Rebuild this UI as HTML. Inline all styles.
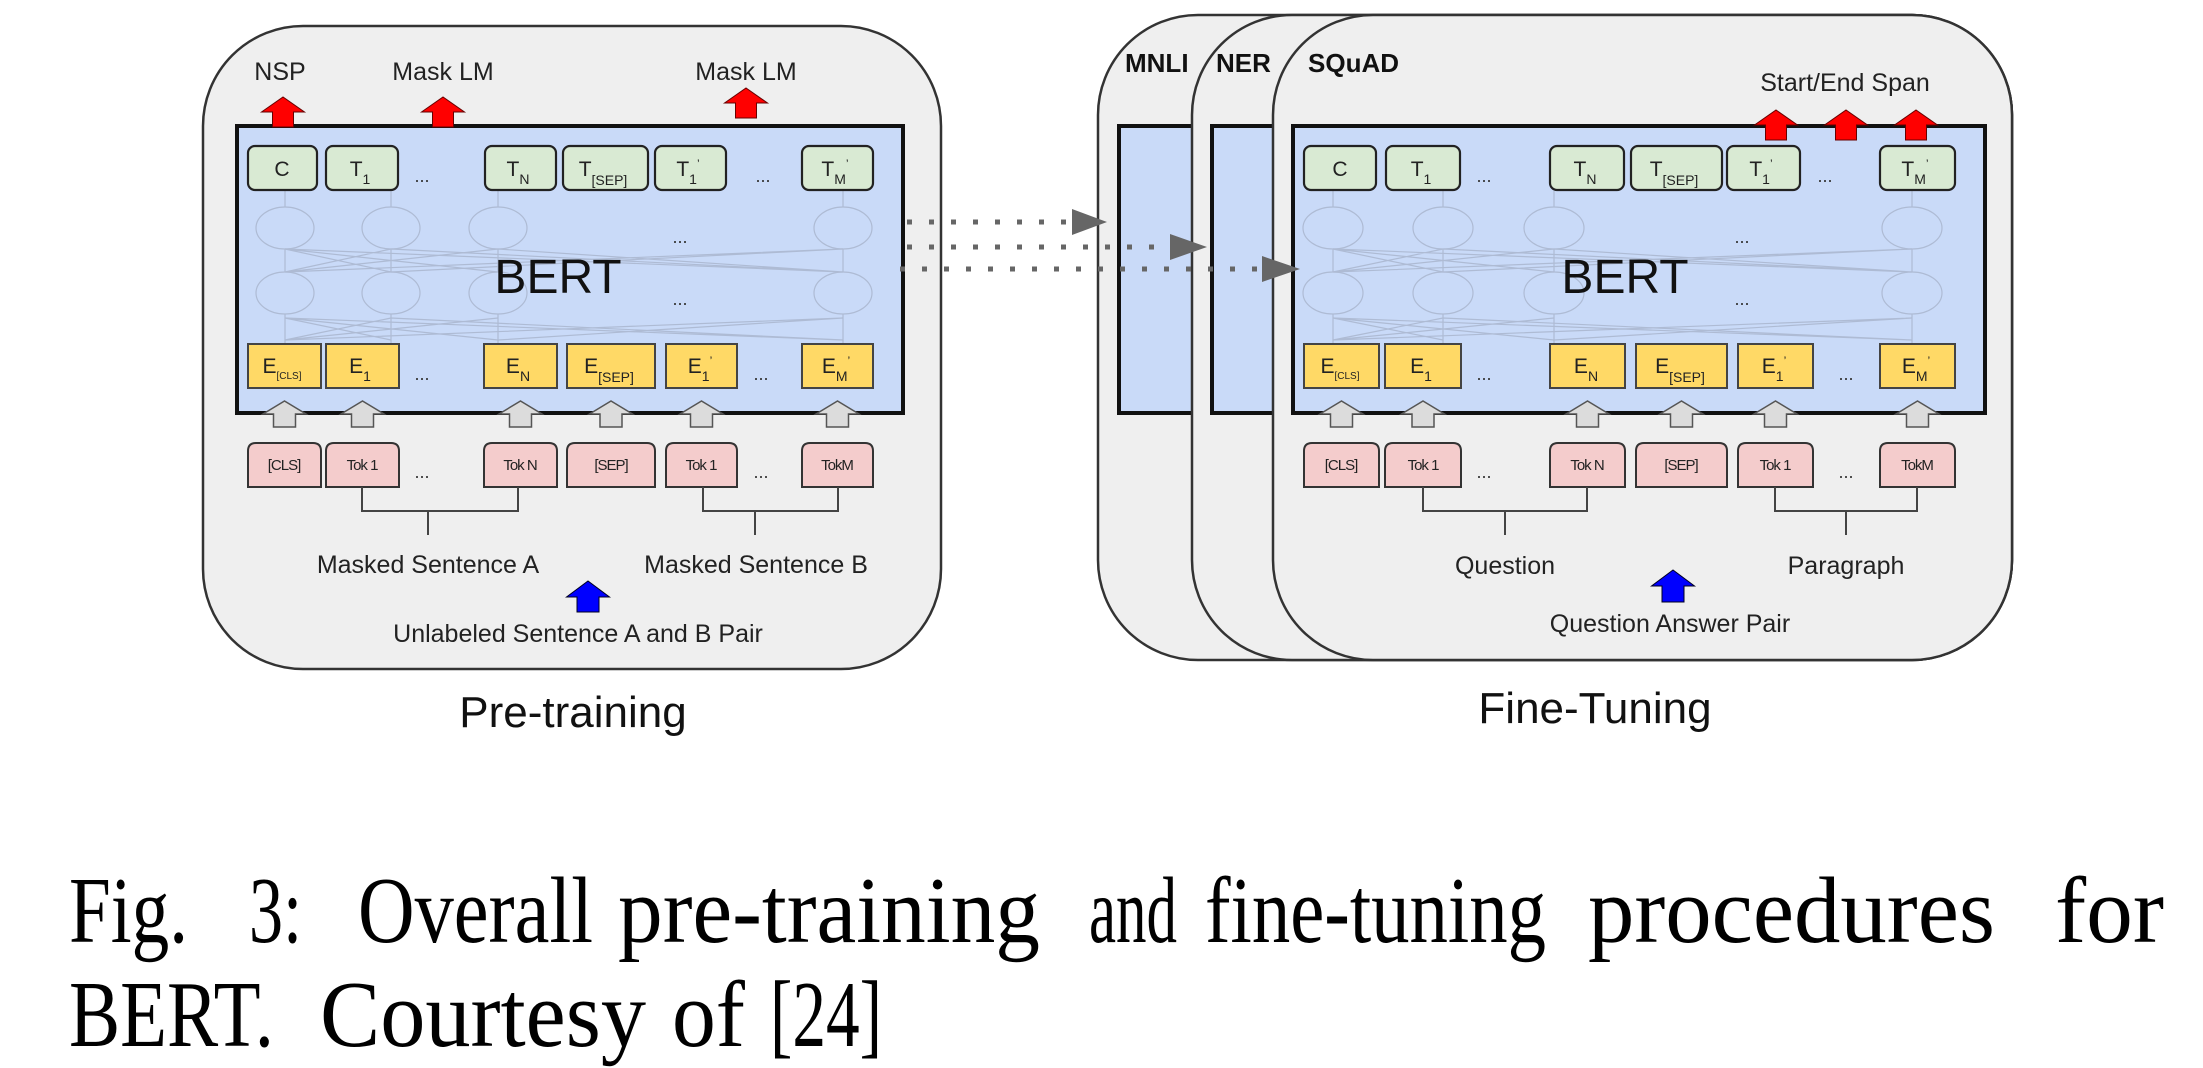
<!DOCTYPE html>
<html><head><meta charset="utf-8"><style>
html,body{margin:0;padding:0;background:#fff;}
svg{display:block;}
text{font-family:"Liberation Sans",Arial,sans-serif;fill:#222;}
.cap text{font-family:"Liberation Serif","Times New Roman",serif;fill:#000;font-size:94px;}
.g{fill:#d9ead3;stroke:#222;stroke-width:2.2;}
.y{fill:#ffd966;stroke:#444;stroke-width:2;}
.p{fill:#f4cccc;stroke:#333;stroke-width:2;}
.net{stroke:#aebbd4;stroke-width:1.2;fill:none;}
.lbl{font-size:21px;text-anchor:middle;}
.tok{font-size:15px;text-anchor:middle;letter-spacing:-1px;}
.dots{font-size:18px;text-anchor:middle;fill:#333;}
</style></head><body>
<svg width="2203" height="1068" viewBox="0 0 2203 1068" xmlns="http://www.w3.org/2000/svg">
<rect width="2203" height="1068" fill="#fff"/>

<!-- ================= PRE-TRAINING ================= -->
<rect x="203" y="26" width="738" height="643" rx="100" fill="#efefef" stroke="#333" stroke-width="2.5"/>
<rect x="237" y="126" width="666" height="287" fill="#c9daf8" stroke="#111" stroke-width="4"/>

<g class="net">
<ellipse cx="285" cy="228" rx="29" ry="21"/><ellipse cx="391" cy="228" rx="29" ry="21"/><ellipse cx="498" cy="228" rx="29" ry="21"/><ellipse cx="843" cy="228" rx="29" ry="21"/>
<ellipse cx="285" cy="293" rx="29" ry="21"/><ellipse cx="391" cy="293" rx="29" ry="21"/><ellipse cx="498" cy="293" rx="29" ry="21"/><ellipse cx="843" cy="293" rx="29" ry="21"/>
<path d="M285 191V207M391 191V207M498 191V207M843 191V207M285 249V272M391 249V272M498 249V272M843 249V272M285 314V344M391 314V344M498 314V344M843 314V344"/>
<path d="M285 249L391 272M285 249L498 272M285 249L843 272M391 249L285 272M391 249L843 272M498 249L285 272M498 249L843 272M843 249L285 272M843 249L391 272"/>
<path d="M285 318L391 340M285 318L498 340M285 318L843 340M391 318L285 340M391 318L843 340M498 318L285 340M843 318L285 340M843 318L498 340"/>
</g>
<text x="680" y="243" class="dots" fill="#aab">...</text>
<text x="680" y="305" class="dots" fill="#aab">...</text>

<text x="558" y="293" font-size="48" text-anchor="middle" style="fill:#111">BERT</text>

<rect class="g" x="248" y="146" width="69" height="44" rx="7"/>
<rect class="g" x="326" y="146" width="72" height="44" rx="7"/>
<rect class="g" x="485" y="146" width="71" height="44" rx="7"/>
<rect class="g" x="563" y="146" width="85" height="44" rx="7"/>
<rect class="g" x="655" y="146" width="71" height="44" rx="7"/>
<rect class="g" x="802" y="146" width="71" height="44" rx="7"/>
<text x="282" y="176" class="lbl">C</text>
<text x="360" y="176" class="lbl">T<tspan font-size="14" dy="8">1</tspan></text>
<text x="518" y="176" class="lbl">T<tspan font-size="14" dy="8">N</tspan></text>
<text x="603" y="176" class="lbl">T<tspan font-size="14" dy="9">[SEP]</tspan></text>
<text x="688" y="176" class="lbl">T<tspan font-size="14" dy="8">1</tspan><tspan font-size="12" dy="-16">’</tspan></text>
<text x="835" y="176" class="lbl">T<tspan font-size="14" dy="8">M</tspan><tspan font-size="12" dy="-16">’</tspan></text>
<text x="422" y="182" class="dots">...</text>
<text x="763" y="182" class="dots">...</text>

<rect class="y" x="248" y="344" width="73" height="44"/>
<rect class="y" x="326" y="344" width="73" height="44"/>
<rect class="y" x="484" y="344" width="73" height="44"/>
<rect class="y" x="567" y="344" width="88" height="44"/>
<rect class="y" x="666" y="344" width="71" height="44"/>
<rect class="y" x="802" y="344" width="71" height="44"/>
<text x="282" y="373" class="lbl">E<tspan font-size="10" dy="6">[CLS]</tspan></text>
<text x="360" y="373" class="lbl">E<tspan font-size="14" dy="8">1</tspan></text>
<text x="518" y="373" class="lbl">E<tspan font-size="14" dy="8">N</tspan></text>
<text x="609" y="373" class="lbl">E<tspan font-size="14" dy="9">[SEP]</tspan></text>
<text x="700" y="373" class="lbl">E<tspan font-size="14" dy="8">1</tspan><tspan font-size="12" dy="-16">’</tspan></text>
<text x="836" y="373" class="lbl">E<tspan font-size="14" dy="8">M</tspan><tspan font-size="12" dy="-16">’</tspan></text>
<text x="422" y="380" class="dots">...</text>
<text x="761" y="380" class="dots">...</text>

<g fill="#dcdcdc" stroke="#555" stroke-width="1.5">
<path d="M263 414L284.5 401L306 414L295.5 414L295.5 427L273.5 427L273.5 414Z"/>
<path d="M341 414L362.5 401L384 414L373.5 414L373.5 427L351.5 427L351.5 414Z"/>
<path d="M499 414L520.5 401L542 414L531.5 414L531.5 427L509.5 427L509.5 414Z"/>
<path d="M589.5 414L611 401L632.5 414L622 414L622 427L600 427L600 414Z"/>
<path d="M680 414L701.5 401L723 414L712.5 414L712.5 427L690.5 427L690.5 414Z"/>
<path d="M816 414L837.5 401L859 414L848.5 414L848.5 427L826.5 427L826.5 414Z"/>
</g>

<g class="p">
<path d="M248 487V451Q248 443 256 443H313Q321 443 321 451V487Z"/>
<path d="M326 487V451Q326 443 334 443H391Q399 443 399 451V487Z"/>
<path d="M484 487V451Q484 443 492 443H549Q557 443 557 451V487Z"/>
<path d="M567 487V451Q567 443 575 443H647Q655 443 655 451V487Z"/>
<path d="M666 487V451Q666 443 674 443H729Q737 443 737 451V487Z"/>
<path d="M802 487V451Q802 443 810 443H865Q873 443 873 451V487Z"/>
</g>
<text x="284" y="470" class="tok" font-size="12">[CLS]</text>
<text x="362" y="470" class="tok">Tok 1</text>
<text x="520" y="470" class="tok">Tok N</text>
<text x="611" y="470" class="tok">[SEP]</text>
<text x="701" y="470" class="tok">Tok 1</text>
<text x="837" y="470" class="tok">TokM</text>
<text x="422" y="478" class="dots">...</text>
<text x="761" y="478" class="dots">...</text>

<g stroke="#444" stroke-width="2" fill="none">
<path d="M362 487V511H518V487M428 511V535"/>
<path d="M703 487V511H838V487M755 511V535"/>
</g>

<g fill="#ff0000" stroke="#600" stroke-width="1">
<path d="M261.5 112L283 97L304.5 112L293.5 112L293.5 127L272.5 127L272.5 112Z"/>
<path d="M421.5 112L443 97L464.5 112L453.5 112L453.5 127L432.5 127L432.5 112Z"/>
<path d="M724.5 103L746 88L767.5 103L756.5 103L756.5 118L735.5 118L735.5 103Z"/>
</g>
<text x="280" y="80" font-size="25" text-anchor="middle">NSP</text>
<text x="443" y="80" font-size="25" text-anchor="middle">Mask LM</text>
<text x="746" y="80" font-size="25" text-anchor="middle">Mask LM</text>

<text x="428" y="573" font-size="25" text-anchor="middle">Masked Sentence A</text>
<text x="756" y="573" font-size="25" text-anchor="middle">Masked Sentence B</text>
<path d="M566.5 597L588 581L609.5 597L599 597L599 612L577 612L577 597Z" fill="#0000ff" stroke="#002" stroke-width="1"/>
<text x="578" y="642" font-size="25" text-anchor="middle">Unlabeled Sentence A and B Pair</text>
<text x="573" y="727" font-size="44" text-anchor="middle" style="fill:#111">Pre-training</text>

<!-- ================= FINE-TUNING ================= -->
<rect x="1098" y="15" width="914" height="645" rx="100" fill="#efefef" stroke="#333" stroke-width="2.5"/>
<rect x="1119" y="126" width="300" height="287" fill="#c9daf8" stroke="#111" stroke-width="4"/>
<rect x="1192" y="15" width="820" height="645" rx="100" fill="#efefef" stroke="#333" stroke-width="2.5"/>
<rect x="1212" y="126" width="300" height="287" fill="#c9daf8" stroke="#111" stroke-width="4"/>
<rect x="1273" y="15" width="739" height="645" rx="100" fill="#efefef" stroke="#333" stroke-width="2.5"/>
<text x="1125" y="72" font-size="26" font-weight="bold" style="fill:#111">MNLI</text>
<text x="1216" y="72" font-size="26" font-weight="bold" style="fill:#111">NER</text>
<text x="1308" y="72" font-size="26" font-weight="bold" style="fill:#111">SQuAD</text>

<rect x="1293" y="126" width="692" height="287" fill="#c9daf8" stroke="#111" stroke-width="4"/>
<g class="net">
<ellipse cx="1333" cy="228" rx="30" ry="21"/><ellipse cx="1443" cy="228" rx="30" ry="21"/><ellipse cx="1554" cy="228" rx="30" ry="21"/><ellipse cx="1912" cy="228" rx="30" ry="21"/>
<ellipse cx="1333" cy="293" rx="30" ry="21"/><ellipse cx="1443" cy="293" rx="30" ry="21"/><ellipse cx="1554" cy="293" rx="30" ry="21"/><ellipse cx="1912" cy="293" rx="30" ry="21"/>
<path d="M1333 191V207M1443 191V207M1554 191V207M1912 191V207M1333 249V272M1443 249V272M1554 249V272M1912 249V272M1333 314V344M1443 314V344M1554 314V344M1912 314V344"/>
<path d="M1333 249L1443 272M1333 249L1554 272M1333 249L1912 272M1443 249L1333 272M1443 249L1912 272M1554 249L1333 272M1554 249L1912 272M1912 249L1333 272M1912 249L1443 272"/>
<path d="M1333 318L1443 340M1333 318L1554 340M1333 318L1912 340M1443 318L1333 340M1443 318L1912 340M1554 318L1333 340M1912 318L1333 340M1912 318L1554 340"/>
</g>
<text x="1742" y="243" class="dots" fill="#aab">...</text>
<text x="1742" y="305" class="dots" fill="#aab">...</text>
<text x="1625" y="293" font-size="48" text-anchor="middle" style="fill:#111">BERT</text>

<rect class="g" x="1304" y="146" width="72" height="44" rx="7"/>
<rect class="g" x="1386" y="146" width="74" height="44" rx="7"/>
<rect class="g" x="1550" y="146" width="74" height="44" rx="7"/>
<rect class="g" x="1631" y="146" width="91" height="44" rx="7"/>
<rect class="g" x="1727" y="146" width="73" height="44" rx="7"/>
<rect class="g" x="1880" y="146" width="75" height="44" rx="7"/>
<text x="1340" y="176" class="lbl">C</text>
<text x="1421" y="176" class="lbl">T<tspan font-size="14" dy="8">1</tspan></text>
<text x="1585" y="176" class="lbl">T<tspan font-size="14" dy="8">N</tspan></text>
<text x="1674" y="176" class="lbl">T<tspan font-size="14" dy="9">[SEP]</tspan></text>
<text x="1761" y="176" class="lbl">T<tspan font-size="14" dy="8">1</tspan><tspan font-size="12" dy="-16">’</tspan></text>
<text x="1915" y="176" class="lbl">T<tspan font-size="14" dy="8">M</tspan><tspan font-size="12" dy="-16">’</tspan></text>
<text x="1484" y="182" class="dots">...</text>
<text x="1825" y="182" class="dots">...</text>

<rect class="y" x="1304" y="344" width="75" height="44"/>
<rect class="y" x="1385" y="344" width="76" height="44"/>
<rect class="y" x="1550" y="344" width="75" height="44"/>
<rect class="y" x="1636" y="344" width="91" height="44"/>
<rect class="y" x="1738" y="344" width="75" height="44"/>
<rect class="y" x="1880" y="344" width="75" height="44"/>
<text x="1340" y="373" class="lbl">E<tspan font-size="10" dy="6">[CLS]</tspan></text>
<text x="1421" y="373" class="lbl">E<tspan font-size="14" dy="8">1</tspan></text>
<text x="1586" y="373" class="lbl">E<tspan font-size="14" dy="8">N</tspan></text>
<text x="1680" y="373" class="lbl">E<tspan font-size="14" dy="9">[SEP]</tspan></text>
<text x="1774" y="373" class="lbl">E<tspan font-size="14" dy="8">1</tspan><tspan font-size="12" dy="-16">’</tspan></text>
<text x="1916" y="373" class="lbl">E<tspan font-size="14" dy="8">M</tspan><tspan font-size="12" dy="-16">’</tspan></text>
<text x="1484" y="380" class="dots">...</text>
<text x="1846" y="380" class="dots">...</text>

<g fill="#dcdcdc" stroke="#555" stroke-width="1.5">
<path d="M1320 414L1341.5 401L1363 414L1352.5 414L1352.5 427L1330.5 427L1330.5 414Z"/>
<path d="M1401.5 414L1423 401L1444.5 414L1434 414L1434 427L1412 427L1412 414Z"/>
<path d="M1566 414L1587.5 401L1609 414L1598.5 414L1598.5 427L1576.5 427L1576.5 414Z"/>
<path d="M1660 414L1681.5 401L1703 414L1692.5 414L1692.5 427L1670.5 427L1670.5 414Z"/>
<path d="M1754 414L1775.5 401L1797 414L1786.5 414L1786.5 427L1764.5 427L1764.5 414Z"/>
<path d="M1896 414L1917.5 401L1939 414L1928.5 414L1928.5 427L1906.5 427L1906.5 414Z"/>
</g>

<g class="p">
<path d="M1304 487V451Q1304 443 1312 443H1371Q1379 443 1379 451V487Z"/>
<path d="M1385 487V451Q1385 443 1393 443H1453Q1461 443 1461 451V487Z"/>
<path d="M1550 487V451Q1550 443 1558 443H1617Q1625 443 1625 451V487Z"/>
<path d="M1636 487V451Q1636 443 1644 443H1719Q1727 443 1727 451V487Z"/>
<path d="M1738 487V451Q1738 443 1746 443H1805Q1813 443 1813 451V487Z"/>
<path d="M1880 487V451Q1880 443 1888 443H1947Q1955 443 1955 451V487Z"/>
</g>
<text x="1341" y="470" class="tok" font-size="12">[CLS]</text>
<text x="1423" y="470" class="tok">Tok 1</text>
<text x="1587" y="470" class="tok">Tok N</text>
<text x="1681" y="470" class="tok">[SEP]</text>
<text x="1775" y="470" class="tok">Tok 1</text>
<text x="1917" y="470" class="tok">TokM</text>
<text x="1484" y="478" class="dots">...</text>
<text x="1846" y="478" class="dots">...</text>

<g stroke="#444" stroke-width="2" fill="none">
<path d="M1423 487V511H1587V487M1505 511V535"/>
<path d="M1775 487V511H1917V487M1846 511V535"/>
</g>

<g fill="#ff0000" stroke="#600" stroke-width="1">
<path d="M1754.5 125L1776 110L1797.5 125L1786.5 125L1786.5 140L1765.5 140L1765.5 125Z"/>
<path d="M1824.5 125L1846 110L1867.5 125L1856.5 125L1856.5 140L1835.5 140L1835.5 125Z"/>
<path d="M1894.5 125L1916 110L1937.5 125L1926.5 125L1926.5 140L1905.5 140L1905.5 125Z"/>
</g>
<text x="1845" y="91" font-size="25" text-anchor="middle">Start/End Span</text>

<text x="1505" y="574" font-size="25" text-anchor="middle">Question</text>
<text x="1846" y="574" font-size="25" text-anchor="middle">Paragraph</text>
<path d="M1651.5 586L1673 570L1694.5 586L1684 586L1684 602L1662 602L1662 586Z" fill="#0000ff" stroke="#002" stroke-width="1"/>
<text x="1670" y="632" font-size="25" text-anchor="middle">Question Answer Pair</text>
<text x="1595" y="723" font-size="44" text-anchor="middle" style="fill:#111">Fine-Tuning</text>

<g stroke="#666" stroke-width="5" stroke-dasharray="5 17" fill="none">
<line x1="907" y1="222" x2="1072" y2="222"/>
<line x1="907" y1="247" x2="1170" y2="247"/>
<line x1="900" y1="269" x2="1262" y2="269"/>
</g>
<g fill="#666">
<path d="M1072 209L1107 222L1072 235Z"/>
<path d="M1170 234L1207 247L1170 260Z"/>
<path d="M1262 256L1300 269L1262 282Z"/>
</g>

<g class="cap">
<text x="69" y="942" textLength="119" lengthAdjust="spacingAndGlyphs">Fig.</text>
<text x="249" y="942" textLength="53" lengthAdjust="spacingAndGlyphs">3:</text>
<text x="358" y="942" textLength="235" lengthAdjust="spacingAndGlyphs">Overall</text>
<text x="618" y="942" textLength="422" lengthAdjust="spacingAndGlyphs">pre-training</text>
<text x="1089" y="942" textLength="88" lengthAdjust="spacingAndGlyphs">and</text>
<text x="1205" y="942" textLength="341" lengthAdjust="spacingAndGlyphs">fine-tuning</text>
<text x="1588" y="942" textLength="407" lengthAdjust="spacingAndGlyphs">procedures</text>
<text x="2055" y="942" textLength="109" lengthAdjust="spacingAndGlyphs">for</text>
<text x="69" y="1046" textLength="205" lengthAdjust="spacingAndGlyphs">BERT.</text>
<text x="320" y="1046" textLength="326" lengthAdjust="spacingAndGlyphs">Courtesy</text>
<text x="672" y="1046" textLength="73" lengthAdjust="spacingAndGlyphs">of</text>
<text x="770" y="1046" textLength="112" lengthAdjust="spacingAndGlyphs">[24]</text>
</g>
</svg>
</body></html>
